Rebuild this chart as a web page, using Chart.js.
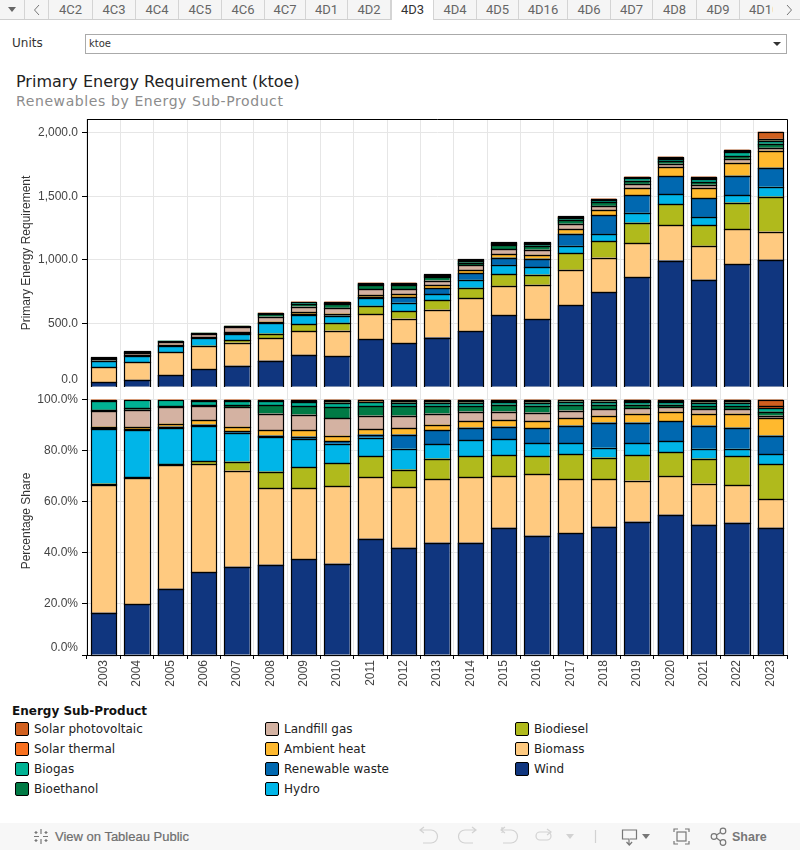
<!DOCTYPE html>
<html>
<head>
<meta charset="utf-8">
<style>
html,body{margin:0;padding:0;background:#fff;width:800px;height:850px;overflow:hidden;position:relative}
.a{position:absolute;white-space:nowrap}
canvas{position:absolute;left:0}
.d{font-family:"DejaVu Sans",sans-serif}
#tabs{left:0;top:0;width:800px;height:19px;background:#f5f5f5;border-bottom:1px solid #cfcfcf}
.tab{position:absolute;top:0;height:19px;text-align:center;font:13px/19px Roboto,sans-serif;color:#666;border-right:1px solid #d4d4d4;box-sizing:border-box;overflow:hidden}
.tab.on{background:#fff;color:#333;height:20px;border-left:1px solid #d4d4d4}
.sw{position:absolute;width:12px;height:12px;border:1px solid #000;border-radius:2px}
.li{position:absolute;font:12px/16px "DejaVu Sans",sans-serif;color:#222}
#foot{left:0;top:823px;width:800px;height:27px;background:#f7f7f7}
</style>
</head>
<body>
<div class="a" id="tabs"></div>
<div class="a d" style="left:12px;top:35px;font-size:12px;line-height:16px;color:#333">Units</div>
<div class="a" style="left:85px;top:34px;width:700px;height:18px;border:1px solid #aaa;box-sizing:content-box"></div>
<div class="a d" style="left:89px;top:37px;font-size:10px;line-height:14px;color:#333">ktoe</div>
<div class="a" style="left:773px;top:42px;width:0;height:0;border-left:4px solid transparent;border-right:4px solid transparent;border-top:4px solid #333"></div>
<div class="a d" id="t1" style="left:16px;top:72px;font-size:16px;line-height:20px;color:#222">Primary Energy Requirement (ktoe)</div>
<div class="a d" id="t2" style="left:16px;top:92px;font-size:14px;letter-spacing:.6px;line-height:18px;color:#8c8c8c">Renewables by Energy Sub-Product</div>

<canvas id="top" width="800" height="277" style="top:110px"></canvas>
<canvas id="bot" width="800" height="313" style="top:387px"></canvas>

<div class="a d" style="left:12px;top:703px;font-size:12px;line-height:16px;font-weight:bold;color:#111">Energy Sub-Product</div>
<div id="legend"></div>

<div class="a" id="foot"></div>
<svg class="a" style="left:0;top:823px" width="800" height="27" fill="none" stroke="#9a9a9a" stroke-width="1.2">
  <g stroke="#777"><path d="M41 6v5M41 16v5M34 13.5h5M43 13.5h5M36 8v3M34.500 9.500h3M46 8v3M44.500 9.500h3M36 16v3M34.500 17.500h3M46 16v3M44.500 17.500h3"/></g>
  <g stroke="#d2d2d2">
    <path d="M421 7h10a4.500 4.500 0 0 1 0 13h-8M424 4l-4 3 4 3"/>
    <path d="M475 7h-10a4.500 4.500 0 0 0 0 13h8M472 4l4 3-4 3"/>
    <path d="M502 4v6M502 7h9a4.500 4.500 0 0 1 0 13h-8M505 4l-4 3 4 3"/>
    <rect x="536" y="9" width="15" height="8" rx="4"/><path d="M547 6l4 3-4 3"/>
  </g>
  <path d="M566 11h8l-4 5z" fill="#d2d2d2" stroke="none"/>
  <path d="M595.500 7v13" stroke="#d2d2d2"/>
  <g stroke="#777">
    <path d="M630 16h6.500V7h-14v9h6.500v6M626.500 19l2.800 3 2.800-3"/>
    <path d="M642 11h8l-4 5z" fill="#777" stroke="none"/>
    <path d="M674 9V6h4M685 6h4v3M689 18v3h-4M678 21h-4v-3"/><rect x="677" y="9" width="9" height="9"/>
    <circle cx="714" cy="13.500" r="2.800"/><circle cx="723" cy="8" r="2.800"/><circle cx="723" cy="19.500" r="2.800"/><path d="M716.500 12l4-2.500M716.500 15l4 3"/>
  </g>
</svg>
<div class="a" style="left:55px;top:829px;font:13px/16px 'Liberation Sans',sans-serif;color:#6e6e6e;-webkit-text-stroke:.2px #6e6e6e">View on Tableau Public</div>
<div class="a" style="left:732px;top:829px;font:bold 12.5px/16px 'Liberation Sans',sans-serif;color:#777">Share</div>

<script src="https://cdn.jsdelivr.net/npm/chart.js@4/dist/chart.umd.js"></script>
<script>
const years = ['2003','2004','2005','2006','2007','2008','2009','2010','2011','2012','2013','2014','2015','2016','2017','2018','2019','2020','2021','2022','2023'];

// Total primary energy requirement, ktoe (top of each stacked bar)
const totals = [233,280,366,429,484,586,673,673,822,822,887,1005,1139,1139,1343,1484,1657,1814,1657,1869,2010];

// Percentage share of each sub-product, bottom of the stack first
const wind       = [16.5,20,25.9,32.5,34.5,35.3,37.6,35.7,45.5,42,43.9,43.9,49.8,46.7,47.8,50.2,52.2,54.9,51,51.8,49.8];
const biomass    = [50,49.1,48.5,42.3,37.7,29.9,27.6,30.3,24,23.6,24.8,25.6,20.1,24,20.9,18.5,16.1,15.2,16.1,14.6,11.1];
const biodiesel  = [0.6,0.5,0.4,1.1,3.5,6.6,8.2,9,8.2,7,8.2,8.2,8.2,7,9.8,8.6,9.8,9.2,9.8,11.3,13.7];
const hydro      = [21.3,18.5,14.1,13.8,11.3,13.6,11.2,7.7,7.4,8.2,5.5,6.3,6.3,5.1,4.3,3.9,4.7,4.3,3.9,3.1,3.9];
const waste      = [0.3,0.3,0.5,0.5,0.5,0.5,0.9,0.9,1.2,5.5,5.5,5,5,5.9,7,9.8,8.2,7.8,9,8.2,7.4];
const ambient    = [0.7,0.9,1.2,1.6,1.9,2,2.4,2.3,2,2.4,2.3,2.4,2.4,2.7,2.8,2.7,3.5,3.9,4.7,5.5,6.7];
const landfill   = [6.2,6.7,6.3,5.5,7.5,6.6,6.2,6.7,5.4,5,4.3,3.9,3.5,3.5,3.1,2.4,2,1.6,1.6,1.6,1.1];
const bioethanol = [0.4,0.5,0.5,0.5,0.8,3.2,3.2,4.3,3.6,3.6,3,2.2,2.7,2.7,2.3,1.9,1.5,1.1,1.2,1.2,1.6];
const biogas     = [3.6,3.2,2.3,1.8,1.9,1.8,1.8,1.9,1.8,1.5,1.3,1.3,1,1.2,1.2,1.2,1.2,1,1.5,1.5,1.2];
const thermal    = [0.4,0.3,0.3,0.4,0.4,0.5,0.5,0.8,0.6,0.8,0.7,0.7,0.6,0.7,0.5,0.5,0.4,0.6,0.7,0.7,0.8];
const solarPv    = [0,0,0,0,0,0,0.4,0.4,0.3,0.4,0.5,0.5,0.4,0.5,0.3,0.3,0.4,0.4,0.5,0.5,2.7];

const yTicksTop = [0,500,1000,1500,2000];
const yTicksBottom = [0,20,40,60,80,100];

const seriesNames  = ['Wind','Biomass','Biodiesel','Hydro','Renewable waste','Ambient heat','Landfill gas','Bioethanol','Biogas','Solar thermal','Solar photovoltaic'];
const seriesShares = [wind,biomass,biodiesel,hydro,waste,ambient,landfill,bioethanol,biogas,thermal,solarPv];
const seriesColors = ['#10367f','#ffca80','#b0ba1c','#00b5e8','#0068b0','#ffb92e','#d4b2a2','#007a45','#00b294','#f8701f','#d1601f'];

// Chrome
const tabDefs = [['',0,25],['',25,49],['4C2',49,93],['4C3',93,136],['4C4',136,179],['4C5',179,222],['4C6',222,265],['4C7',265,306],['4D1',306,348],['4D2',348,391],['4D3',391,434],['4D4',434,477],['4D5',477,519],['4D16',519,568],['4D6',568,611],['4D7',611,653],['4D8',653,697],['4D9',697,740],['4D10',740,773]];
const tabsEl = document.getElementById('tabs');
tabDefs.forEach(([t,a,b])=>{
  const d=document.createElement('div');
  d.className='tab'+(t==='4D3'?' on':'');
  d.style.left=a+'px'; d.style.width=(b-a)+'px'; d.textContent=t;
  if(t==='4D10'){d.style.textAlign='left';d.style.paddingLeft='9px';d.style.borderRight='none';}
  tabsEl.appendChild(d);
});
tabsEl.insertAdjacentHTML('beforeend',
 '<div style="position:absolute;left:8px;top:7px;border-left:4px solid transparent;border-right:4px solid transparent;border-top:5px solid #666"></div>'+
 '<svg style="position:absolute;left:33px;top:4px" width="8" height="12" fill="none" stroke="#777"><path d="M6 1L1.500 6 6 11"/></svg>'+
 '<svg style="position:absolute;left:785px;top:4px" width="8" height="12" fill="none" stroke="#777"><path d="M2 1l4.500 5L2 11"/></svg>');

// Legend
const legendRows = [
 [15,34,['Solar photovoltaic','Solar thermal','Biogas','Bioethanol']],
 [265,284,['Landfill gas','Ambient heat','Renewable waste','Hydro']],
 [515,534,['Biodiesel','Biomass','Wind']]
];
const legendEl=document.getElementById('legend');
legendRows.forEach(([sx,tx,names])=>names.forEach((n,i)=>{
  const y=722+i*20;
  const c=seriesColors[seriesNames.indexOf(n)];
  legendEl.insertAdjacentHTML('beforeend',`<div class="sw" style="left:${sx}px;top:${y}px;background:${c}"></div><div class="li" style="left:${tx}px;top:${y-1}px">${n}</div>`);
}));

// Charts
const FONT='"Liberation Sans",Arial,sans-serif';
const GRID='#e6e6e6';
const noPad=s=>{s.paddingTop=0;s.paddingBottom=0;s.paddingLeft=0;s.paddingRight=0;};
const outline={id:'outline',afterDatasetsDraw(chart){
  const ctx=chart.ctx;ctx.save();ctx.strokeStyle='#000';ctx.lineWidth=1.2;
  chart.data.datasets.forEach((ds,di)=>{
    chart.getDatasetMeta(di).data.forEach((el,i)=>{
      if(!ds.data[i])return;
      const p=el.getProps(['x','y','base','width'],true);
      const l=Math.round(p.x-p.width/2)+.5,r=Math.round(p.x+p.width/2)+.5;
      const t=Math.round(p.y)+.5,b=Math.round(p.base)+.5;
      ctx.strokeRect(l,t,r-l,b-t);
    });
  });
  ctx.restore();
}};
const frame={id:'frame',afterDraw(chart){
  const {ctx,chartArea:a}=chart;ctx.save();ctx.strokeStyle='#000';ctx.lineWidth=1;ctx.beginPath();
  ctx.moveTo(a.left,a.top+.5);ctx.lineTo(a.right+.5,a.top+.5);ctx.lineTo(a.right+.5,a.bottom);ctx.stroke();ctx.restore();
}};
function makeChart(id,values,cfg){
  return new Chart(document.getElementById(id),{
    type:'bar',
    data:{labels:years,datasets:seriesNames.map((n,i)=>({label:n,data:values[i],backgroundColor:seriesColors[i],borderWidth:0,barPercentage:.76,categoryPercentage:1,inflateAmount:0}))},
    plugins:[outline].concat(cfg.plugins||[]),
    options:{
      responsive:false,animation:false,
      layout:{autoPadding:false,padding:{top:cfg.padTop,right:13,left:0,bottom:0}},
      plugins:{legend:{display:false},tooltip:{enabled:false},title:{display:false}},
      scales:{
        x:{stacked:true,offset:true,
           grid:{offset:true,color:GRID,tickColor:'#000',drawTicks:cfg.showX,tickLength:4},
           border:{color:'#000',width:1},
           ticks:{display:cfg.showX,minRotation:90,maxRotation:90,autoSkip:false,font:{family:FONT,size:12},color:'#444',padding:1},
           afterFit(s){s.height=cfg.xHeight;noPad(s);}},
        y:{stacked:true,min:0,max:cfg.max,
           grid:{color:GRID,tickColor:'#000',tickLength:5},
           border:{color:'#000',width:1},
           title:{display:true,text:cfg.title,font:{family:FONT,size:12},color:'#333',padding:{top:19,bottom:0}},
           ticks:{font:{family:FONT,size:12},color:'#444',padding:4,autoSkip:false,stepSize:cfg.step,callback:cfg.label},
           afterBuildTicks(s){s.ticks=cfg.ticks.map(v=>({value:v}));},
           afterFit(s){s.width=87;noPad(s);}}
      }
    }
  });
}
const topValues=seriesShares.map(sh=>sh.map((p,i)=>totals[i]*p/100));
makeChart('top',topValues,{padTop:9,showX:false,xHeight:0,max:2110,step:500,ticks:yTicksTop,title:'Primary Energy Requirement',plugins:[frame],
  label:v=>v===0?['0.0','']:v.toLocaleString('en-US',{minimumFractionDigits:1,maximumFractionDigits:1})});
makeChart('bot',seriesShares,{padTop:0,showX:true,xHeight:45,max:104.9,step:20,ticks:yTicksBottom,title:'Percentage Share',
  label:v=>v===0?['0.0%','']:v.toFixed(1)+'%'});
</script>
</body>
</html>
